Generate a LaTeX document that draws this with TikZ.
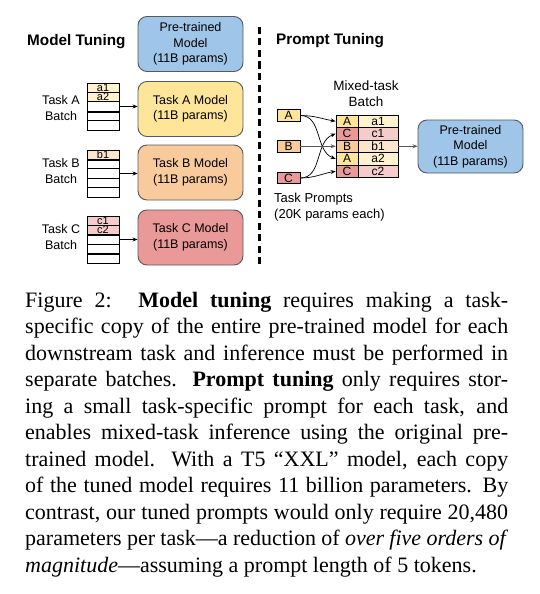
\documentclass[tikz,border=0pt]{standalone}
\usepackage{fontspec}
\setmainfont{Liberation Serif}
\newfontfamily\arialf{Liberation Sans}
\usetikzlibrary{arrows.meta}
\definecolor{mblue}{HTML}{9FC5E8}
\definecolor{myel}{HTML}{FFE599}
\definecolor{morg}{HTML}{F9CB9C}
\definecolor{mred}{HTML}{EA9999}
\definecolor{lyel}{HTML}{FFF2CC}
\definecolor{lorg}{HTML}{FCE5CD}
\definecolor{lred}{HTML}{F4CCCC}
\definecolor{boxgray}{HTML}{595959}
\definecolor{arrgray}{HTML}{595959}
\tikzset{
 model/.style={draw=boxgray, line width=0.9pt, rounded corners=9pt, minimum width=105pt, minimum height=55pt, align=center, inner sep=0pt, font=\arialf\fontsize{12.5}{15.5}\selectfont},
 cell/.style={draw=black, line width=0.8pt, minimum width=32pt, minimum height=9.4pt, inner sep=0pt, font=\arialf\fontsize{11}{11}\selectfont},
 tcell/.style={draw=black, line width=0.8pt, minimum height=12.5pt, inner sep=0pt, font=\arialf\fontsize{12}{12}\selectfont},
 pbox/.style={draw=black, line width=0.8pt, minimum width=23pt, minimum height=11.5pt, inner sep=0pt, font=\arialf\fontsize{12}{12}\selectfont},
 lab/.style={font=\arialf\fontsize{12.5}{16}\selectfont, align=center, inner sep=0pt},
 ttl/.style={font=\arialf\bfseries\fontsize{15.3}{18}\selectfont, anchor=west, inner sep=0pt},
 arr/.style={-{Stealth[length=5pt,width=4pt]}, line width=0.7pt},
 garr/.style={arr, draw=arrgray, line width=1.2pt},
 thickline/.style={line width=2pt},
}
\begin{document}
\begin{tikzpicture}[x=1pt,y=-1pt]
\useasboundingbox (0,0) rectangle (539,594);
% titles
\node[ttl] (mt) at (27,42) {Model Tuning};
\node[ttl] (ptt) at (276,41) {Prompt Tuning};
% model tuning boxes
\node[model, fill=mblue] (pt1) at (190.5,44) {Pre-trained\\Model\\(11B params)};
\node[model, fill=myel] (mA) at (190.5,109) {Task A Model\\(11B params)};
\node[model, fill=morg] (mB) at (190.5,172.5) {Task B Model\\(11B params)};
\node[model, fill=mred] (mC) at (190.5,237.5) {Task C Model\\(11B params)};
% labels
\node[lab] (lA) at (61,108) {Task A\\Batch};
\node[lab] (lB) at (61,171.5) {Task B\\Batch};
\node[lab] (lC) at (61,237) {Task C\\Batch};
% stack A
\node[cell, fill=lyel] (a1) at (103,87.7) {a1};
\node[cell, fill=lyel] (a2) at (103,97.1) {a2};
\node[cell] (a3) at (103,106.5) {};
\node[cell] (a4) at (103,115.9) {};
\node[cell] (a5) at (103,125.3) {};
\draw[thickline] (a3.south west) -- (a3.south east);
% stack B
\node[cell, fill=lorg] (b1) at (103,154.7) {b1};
\node[cell] (b2) at (103,164.1) {};
\node[cell] (b3) at (103,173.5) {};
\node[cell] (b4) at (103,182.9) {};
\node[cell] (b5) at (103,192.3) {};
\draw[thickline] (b1.south west) -- (b1.south east);
% stack C
\node[cell, fill=lred] (c1) at (103,220.7) {c1};
\node[cell, fill=lred] (c2) at (103,230.1) {c2};
\node[cell] (c3) at (103,239.5) {};
\node[cell] (c4) at (103,248.9) {};
\node[cell] (c5) at (103,258.3) {};
\draw[thickline] (c2.south west) -- (c2.south east);
\draw[thickline] (c4.south west) -- (c4.south east);
% arrows left
\draw[arr] (a3.east) -- (a3.east -| mA.west);
\draw[arr] (b3.east) -- (b3.east -| mB.west);
\draw[arr] (c3.east) -- (c3.east -| mC.west);
% dashed divider
\coordinate (d1) at (259.5,27);
\coordinate (d2) at (259.5,267);
\draw[line width=3.3pt, dash pattern=on 7pt off 4.5pt] (d1) -- (d2);
% prompt tuning
\node[lab, font=\arialf\fontsize{13.5}{16.5}\selectfont] (mix) at (366,93.5) {Mixed-task\\Batch};
\node[tcell, minimum width=22pt, fill=myel] (t1l) at (347,121.25) {A};
\node[tcell, minimum width=40pt, fill=lyel] (t1r) at (378,121.25) {a1};
\node[tcell, minimum width=22pt, fill=mred] (t2l) at (347,133.75) {C};
\node[tcell, minimum width=40pt, fill=lred] (t2r) at (378,133.75) {c1};
\node[tcell, minimum width=22pt, fill=morg] (t3l) at (347,146.25) {B};
\node[tcell, minimum width=40pt, fill=lorg] (t3r) at (378,146.25) {b1};
\node[tcell, minimum width=22pt, fill=myel] (t4l) at (347,158.75) {A};
\node[tcell, minimum width=40pt, fill=lyel] (t4r) at (378,158.75) {a2};
\node[tcell, minimum width=22pt, fill=mred] (t5l) at (347,171.25) {C};
\node[tcell, minimum width=40pt, fill=lred] (t5r) at (378,171.25) {c2};
\node[pbox, fill=myel] (pA) at (288.5,115.5) {A};
\node[pbox, fill=morg] (pB) at (288.5,146.25) {B};
\node[pbox, fill=mred] (pC) at (288.5,178) {C};
\draw[arr] (pA.east) to[out=0,in=170] (t1l.west);
\draw[arr] (pA.east) to[out=0,in=160] (t4l.west);
\draw[arr] (pC.east) to[out=0,in=200] (t2l.west);
\draw[arr] (pC.east) to[out=0,in=190] (t5l.west);
\draw[garr] (pB.east) -- (t3l.west);
\node[model, fill=mblue, minimum height=53pt] (pt2) at (470.5,146.5) {Pre-trained\\Model\\(11B params)};
\draw[garr] (t3r.east) -- (t3r.east -| pt2.west);
\node[lab, align=left, anchor=west, font=\arialf\fontsize{13}{16}\selectfont] (tp) at (274,207) {Task Prompts\\(20K params each)};
% caption
\node[anchor=base west, inner sep=0pt] (cap) at (25,307) {\parbox[t]{483pt}{\fontsize{22}{26.5}\selectfont
\makebox[483pt][s]{Figure 2:\hspace{0.3em} \textbf{Model tuning} requires making a task-}\\
\makebox[483pt][s]{specific copy of the entire pre-trained model for each}\\
\makebox[483pt][s]{downstream task and inference must be performed in}\\
\makebox[483pt][s]{separate batches. \textbf{Prompt tuning} only requires stor-}\\
\makebox[483pt][s]{ing a small task-specific prompt for each task, and}\\
\makebox[483pt][s]{enables mixed-task inference using the original pre-}\\
\makebox[483pt][s]{trained model. With a T5 “XXL” model, each copy}\\
\makebox[483pt][s]{of the tuned model requires 11 billion parameters. By}\\
\makebox[483pt][s]{contrast, our tuned prompts would only require 20,480}\\
\makebox[483pt][s]{parameters per task—a reduction of \textit{over five orders of}}\\
\makebox[483pt][l]{\textit{magnitude}—assuming a prompt length of 5 tokens.}}};
\end{tikzpicture}
\end{document}
